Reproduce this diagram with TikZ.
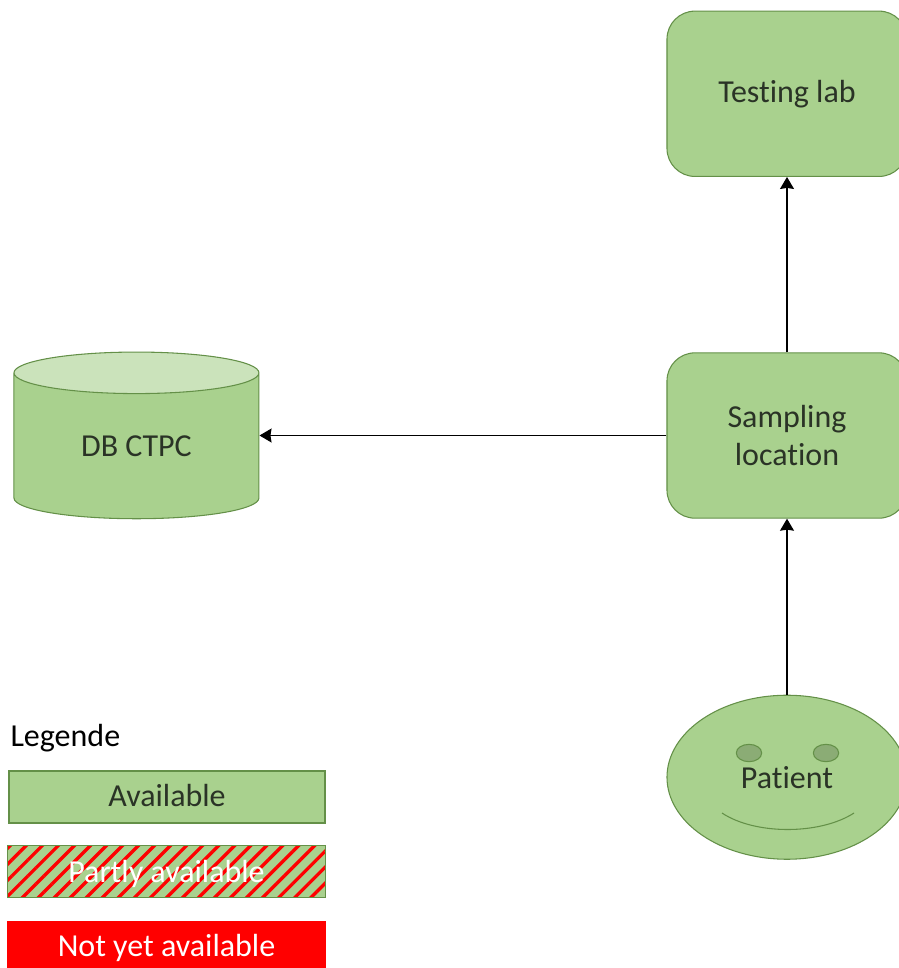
\documentclass[tikz,border=0pt]{standalone}
\usepackage{fontspec}
\setmainfont[Ligatures=NoCommon]{Carlito}
\usetikzlibrary{matrix,arrows.meta,shapes.geometric,patterns.meta}
\definecolor{availgreen}{HTML}{A9D18E}
\definecolor{availedge}{HTML}{649048}
\definecolor{dbtop}{HTML}{CBE3BB}
\definecolor{eyegreen}{HTML}{8BAC75}
\definecolor{inktext}{HTML}{2A3326}
\tikzset{
  roundbox/.style={rectangle, rounded corners=21pt, draw=availedge, fill=availgreen, text=inktext,
    minimum width=180pt, minimum height=124pt},
  dbbox/.style={cylinder, shape border rotate=90, aspect=.375, draw=availedge, text=inktext,
    cylinder uses custom fill, cylinder body fill=availgreen, cylinder end fill=dbtop,
    minimum width=183.75pt, minimum height=125pt},
  facebox/.style={ellipse, draw=availedge, fill=availgreen, text=inktext,
    minimum width=180pt, minimum height=123pt},
  legendbox/.style={rectangle, draw=availedge, text=inktext, text height=17pt, text depth=3pt,
    minimum width=237pt, minimum height=39pt},
  eyebox/.style={ellipse, draw=availedge, fill=eyegreen, minimum width=19pt, minimum height=13pt},
}
\begin{document}
\begin{tikzpicture}[x=.75pt,y=-.75pt,>={Stealth[length=9pt,width=10.5pt,inset=.8pt]},->,line width=.8pt,font=\fontsize{24}{28.5}\selectfont]
\useasboundingbox (0,0) rectangle (899,968);
\clip (0,0) rectangle (899,968);
\matrix [matrix of nodes, matrix anchor=sampling.center, nodes={inner sep=0pt, anchor=center},
column sep={487.9pt,between origins},
row sep={256.3pt,between origins}] at (787,435.5)
{
& |[roundbox,text depth=4pt](lab)| Testing lab \\
|[dbbox,yshift=-7.9pt](db)| DB CTPC & |[roundbox,align=center,text width=100pt](sampling)| Sampling location \\
& |[facebox](patient)| Patient \\};

\draw (patient)--(sampling);
\draw (sampling)--(lab);
\draw (sampling.west)--(sampling.west -| db.east);

% face
\node[eyebox] (eyeL) at (749,753) {};
\node[eyebox] (eyeR) at (826,753) {};
\draw[-,draw=availedge] (722,813) .. controls (755,835) and (820,835) .. (854,813);

% legend
\node[anchor=west, inner sep=0pt] (legende) at (10,738.5) {Legende};
\node[legendbox, fill=availgreen] (avail) at (167,797) {Available};
\node[legendbox, minimum width=238pt, preaction={fill=availgreen}, text depth=1pt,
  pattern={Lines[angle=45,distance=8.5pt,line width=2.5pt]}, pattern color=red, text=white] (partly) at (166.5,871.5) {Partly available};
\node[legendbox, draw=red, fill=red, text=white, minimum width=238pt] (notyet) at (166.5,947.5) {Not yet available};
\end{tikzpicture}
\end{document}
